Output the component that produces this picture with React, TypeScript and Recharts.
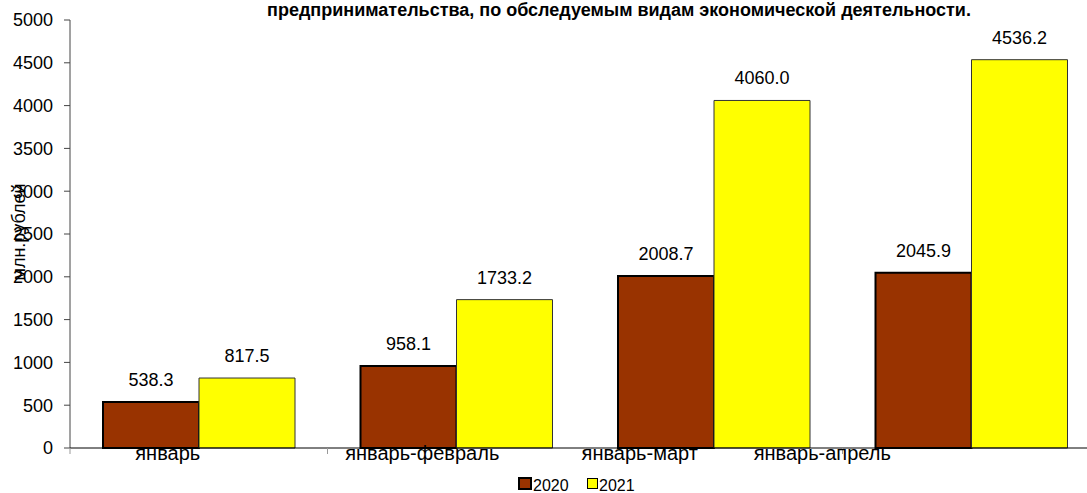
import { useLayoutEffect } from "react";
import { BarChart, Bar, XAxis, YAxis, LabelList, Legend } from "recharts";

const periods = ["январь", "январь-февраль", "январь-март", "январь-апрель"];
const values2020 = [538.3, 958.1, 2008.7, 2045.9];
const values2021 = [817.5, 1733.2, 4060.0, 4536.2];
const yTicks = [0, 500, 1000, 1500, 2000, 2500, 3000, 3500, 4000, 4500, 5000];

const data = periods.map((name, i) => ({
  name,
  y2020: values2020[i],
  y2021: values2021[i],
}));

const FONT = "'Liberation Sans', Arial, sans-serif";
// the source's category labels sit left of their groups
const labelShift = [-31, -34, -74, -149];
const halfBand = 1030 / 4 / 2;

const CategoryTick = (props: any) => {
  const { x, y, payload, index } = props;
  return (
    <g>
      <line x1={x - halfBand} x2={x - halfBand} y1={y - 8} y2={y - 2} stroke="#999" />
      <text
        x={x + labelShift[index]}
        y={y + 4}
        textAnchor="middle"
        fontSize={20}
        fontFamily={FONT}
        fill="#000"
      >
        {payload.value}
      </text>
    </g>
  );
};

const AxisTitle = (props: any) => {
  const vb = props.viewBox || {};
  const cy = vb.y + vb.height / 2 - 2;
  return (
    <text
      x={19}
      y={cy}
      transform={`rotate(-90 19 ${cy})`}
      textAnchor="middle"
      dominantBaseline="central"
      fontSize={18}
      fontFamily={FONT}
      fill="#000"
    >
      млн.рублей
    </text>
  );
};

const LegendBox = () => (
  <svg width={1100} height={17} style={{ display: "block" }}>
    <rect x={519} y={2} width={12} height={11} fill="#993300" stroke="#000" strokeWidth={2} />
    <text x={533} y={15} fontSize={16} fontFamily={FONT} fill="#000">2020</text>
    <rect x={587.5} y={2.5} width={10} height={10} fill="#FFFF00" stroke="#000" strokeWidth={1} />
    <text x={599} y={15} fontSize={16} fontFamily={FONT} fill="#000">2021</text>
  </svg>
);

export default function App() {
  useLayoutEffect(() => {
    document.body.style.margin = "0";
  }, []);

  return (
    <div
      style={{
        position: "relative",
        width: 1087,
        height: 493,
        overflow: "hidden",
        background: "#fff",
      }}
    >
      <BarChart
        width={1100}
        height={493}
        data={data}
        margin={{ top: 20, right: 0, bottom: 0, left: 0 }}
        barGap={0}
        barCategoryGap={33}
      >
        <YAxis
          width={70}
          domain={[0, 5000]}
          ticks={yTicks}
          interval={0}
          tick={{ fill: "#000", fontSize: 18, fontFamily: FONT }}
          tickSize={6}
          tickMargin={11}
          tickLine={{ stroke: "#444" }}
          axisLine={{ stroke: "#444" }}
          label={<AxisTitle />}
        />
        <XAxis
          dataKey="name"
          height={28}
          tick={<CategoryTick />}
          tickLine={false}
          axisLine={{ stroke: "#000" }}
          interval={0}
        />
        <Legend
          verticalAlign="bottom"
          height={17}
          content={<LegendBox />}
          wrapperStyle={{ top: 476, bottom: "auto", left: 0, width: 1100, height: 17 }}
        />
        <Bar dataKey="y2020" fill="#993300" stroke="#000" strokeWidth={2} isAnimationActive={false}>
          <LabelList
            dataKey="y2020"
            position="top"
            offset={16}
            formatter={(v: any) => Number(v).toFixed(1)}
            fill="#000"
            fontSize={18}
            fontFamily={FONT}
          />
        </Bar>
        <Bar dataKey="y2021" fill="#FFFF00" stroke="#333" strokeWidth={1} isAnimationActive={false}>
          <LabelList
            dataKey="y2021"
            position="top"
            offset={16}
            formatter={(v: any) => Number(v).toFixed(1)}
            fill="#000"
            fontSize={18}
            fontFamily={FONT}
          />
        </Bar>
      </BarChart>
      <svg
        width={1087}
        height={22}
        style={{ position: "absolute", top: 0, left: 0, zIndex: 10 }}
      >
        <text
          x={619}
          y={16}
          textAnchor="middle"
          fontSize={18}
          fontWeight="bold"
          fontFamily={FONT}
          fill="#000"
        >
          предпринимательства, по обследуемым видам экономической деятельности.
        </text>
      </svg>
    </div>
  );
}
